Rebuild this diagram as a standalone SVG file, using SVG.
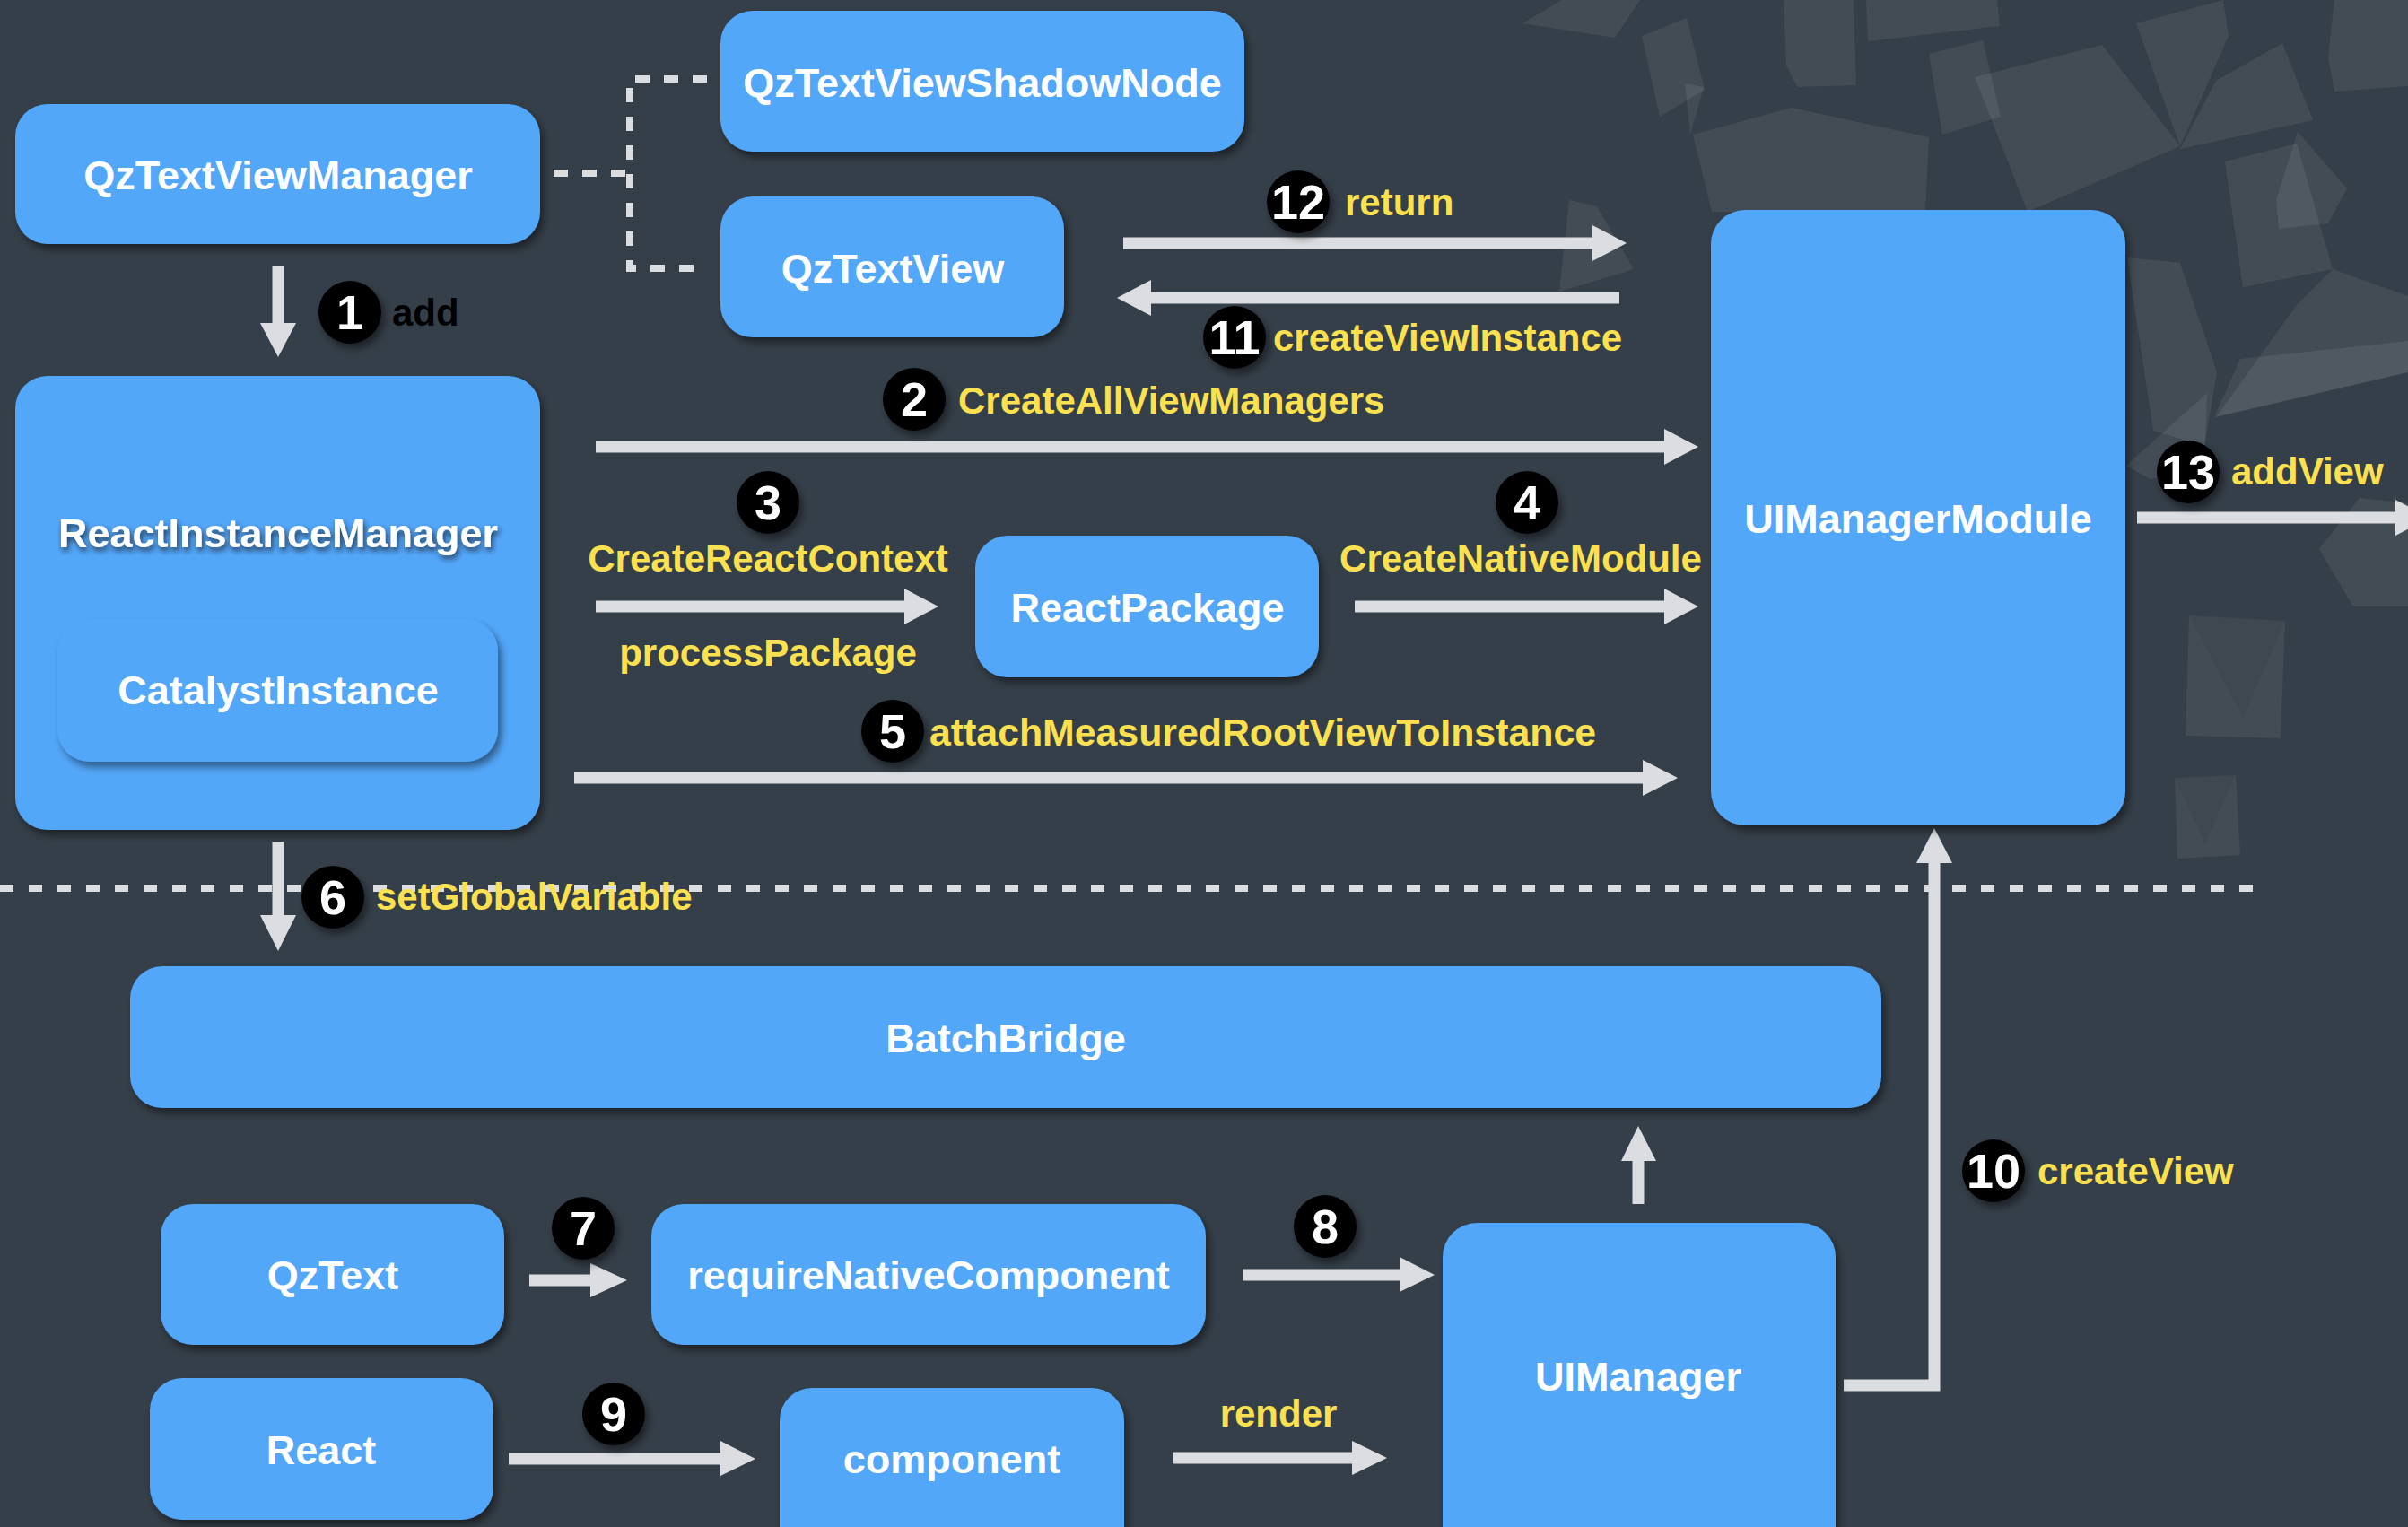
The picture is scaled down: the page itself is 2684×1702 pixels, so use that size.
<svg xmlns="http://www.w3.org/2000/svg" width="2684" height="1702" viewBox="0 0 2684 1702">
<defs>
<filter id="sh" x="-10%" y="-10%" width="130%" height="130%">
<feDropShadow dx="4" dy="6" stdDeviation="4" flood-color="#000" flood-opacity="0.45"/>
</filter>
<filter id="tsh" x="-10%" y="-30%" width="120%" height="170%">
<feDropShadow dx="2" dy="4" stdDeviation="3" flood-color="#1a2430" flood-opacity="0.8"/>
</filter>
<style>
.box{fill:#52a7f9;filter:url(#sh)}
.nt{font-family:"Liberation Sans",Arial,sans-serif;font-weight:bold;font-size:45px;fill:#ffffff;text-anchor:middle}
.lb{font-family:"Liberation Sans",Arial,sans-serif;font-weight:bold;font-size:42px;fill:#fbe04f}
.bd circle{fill:#000;filter:url(#sh)}
.bd text{font-family:"Liberation Sans",Arial,sans-serif;font-weight:bold;font-size:54px;fill:#fff;text-anchor:middle}
.ln{stroke:#dcdde0;stroke-width:13;fill:none}
.hd{fill:#dcdde0}
.dash{stroke:#dcdde0;stroke-width:8;fill:none;stroke-dasharray:16 16}
.bgl{fill:#ffffff;fill-opacity:0.07}
.bgd{fill:#000000;fill-opacity:0.05}
</style>
</defs>
<rect x="0" y="0" width="2684" height="1702" fill="#353f49"/>
<g id="background">
<polygon class="bgl" points="1887,150 1997,120 2150,153 2146,236 1908,236"/>
<polygon class="bgl" points="2201,86 2343,50 2430,163 2260,236"/>
<polygon class="bgl" points="2080,0 2226,0 2229,29 2082,46"/>
<polygon class="bgl" points="2381,26 2478,0 2484,40 2430,163"/>
<polygon class="bgl" points="2544,48 2578,134 2430,166 2470,90"/>
<polygon class="bgl" points="2561,147 2616,210 2595,249 2540,255 2537,223"/>
<polygon class="bgl" points="2602,0 2684,0 2684,96 2602,102 2595,64"/>
<polygon class="bgl" points="2585,612 2630,555 2684,561 2684,676 2623,676"/>
<polygon class="bgl" points="2440,686 2547,692 2542,823 2436,820"/>
<polygon class="bgd" points="2440,686 2500,800 2547,692"/>
<polygon class="bgl" points="2424,867 2492,864 2497,953 2427,957"/>
<polygon class="bgd" points="2424,867 2458,940 2492,864"/>
<polygon class="bgl" points="1749,223 1780,230 1821,300 1738,325"/>
<polygon class="bgl" points="1697,26 1741,0 1828,0 1800,42"/>
<polygon class="bgl" points="2371,287 2430,293 2471,415 2457,497 2400,480"/>
<polygon class="bgl" points="2470,465 2684,415 2684,330 2600,300 2560,340"/>
<polygon class="bgl" points="1988,0 2066,0 2069,95 2003,97 1991,73"/>
<polygon class="bgl" points="1878,93 1899,97 1884,150"/>
<polygon class="bgl" points="2370,519 2460,438 2457,526 2397,534"/>
<polygon class="bgl" points="2468,465 2497,400 2684,380 2684,415"/>
<polygon class="bgl" points="2150,60 2210,45 2230,130 2165,150"/>
<polygon class="bgl" points="1830,40 1880,20 1900,100 1850,130"/>
<polygon class="bgl" points="2480,180 2560,160 2600,300 2500,320"/>
</g>
<g id="separator">
<line x1="0" y1="990" x2="2511" y2="990" stroke="#dcdde0" stroke-width="8" stroke-dasharray="15 17"/>
</g>
<g id="connectors">
<path class="dash" d="M617 193 H702"/>
<path class="dash" d="M788 88 H702 V299 H788"/>
<line class="ln" x1="310" y1="296" x2="310" y2="362"/><polygon class="hd" points="290,360 330,360 310,398"/>
<line class="ln" x1="664" y1="498" x2="1857" y2="498"/><polygon class="hd" points="1855,478 1855,518 1893,498"/>
<line class="ln" x1="664" y1="676" x2="1010" y2="676"/><polygon class="hd" points="1008,656 1008,696 1046,676"/>
<line class="ln" x1="1510" y1="676" x2="1857" y2="676"/><polygon class="hd" points="1855,656 1855,696 1893,676"/>
<line class="ln" x1="640" y1="867" x2="1833" y2="867"/><polygon class="hd" points="1831,847 1831,887 1870,867"/>
<line class="ln" x1="310" y1="938" x2="310" y2="1022"/><polygon class="hd" points="290,1020 330,1020 310,1060"/>
<line class="ln" x1="590" y1="1427" x2="660" y2="1427"/><polygon class="hd" points="658,1408 658,1446 699,1427"/>
<line class="ln" x1="1385" y1="1421" x2="1562" y2="1421"/><polygon class="hd" points="1560,1401 1560,1440 1599,1421"/>
<line class="ln" x1="567" y1="1626" x2="805" y2="1626"/><polygon class="hd" points="803,1606 803,1645 842,1626"/>
<line class="ln" x1="1307" y1="1625" x2="1509" y2="1625"/><polygon class="hd" points="1507,1606 1507,1644 1546,1625"/>
<line class="ln" x1="1826" y1="1342" x2="1826" y2="1292"/><polygon class="hd" points="1807,1294 1846,1294 1826,1255"/>
<path class="ln" d="M2055 1544 H2156 V960"/><polygon class="hd" points="2136,962 2176,962 2156,923"/>
<line class="ln" x1="1805" y1="332" x2="1280" y2="332"/><polygon class="hd" points="1283,312 1283,352 1245,332"/>
<line class="ln" x1="1252" y1="271" x2="1777" y2="271"/><polygon class="hd" points="1775,251 1775,291 1813,271"/>
<line class="ln" x1="2382" y1="577" x2="2672" y2="577"/><polygon class="hd" points="2670,557 2670,597 2708,577"/>
</g>
<g id="QzTextViewManager"><rect class="box" x="17" y="116" width="585" height="156" rx="36"/><text class="nt" x="310" y="211">QzTextViewManager</text></g>
<g id="QzTextViewShadowNode"><rect class="box" x="803" y="12" width="584" height="157" rx="36"/><text class="nt" x="1095" y="108">QzTextViewShadowNode</text></g>
<g id="QzTextView"><rect class="box" x="803" y="219" width="383" height="157" rx="36"/><text class="nt" x="995" y="315">QzTextView</text></g>
<g id="ReactInstanceManager"><rect class="box" x="17" y="419" width="585" height="506" rx="36"/><text class="nt" x="310" y="610" filter="url(#tsh)">ReactInstanceManager</text>
<g id="CatalystInstance"><rect class="box" x="64" y="690" width="491" height="159" rx="36"/><text class="nt" x="310" y="785">CatalystInstance</text></g></g>
<g id="ReactPackage"><rect class="box" x="1087" y="597" width="383" height="158" rx="36"/><text class="nt" x="1279" y="693">ReactPackage</text></g>
<g id="UIManagerModule"><rect class="box" x="1907" y="234" width="462" height="686" rx="38"/><text class="nt" x="2138" y="594">UIManagerModule</text></g>
<g id="BatchBridge"><rect class="box" x="145" y="1077" width="1952" height="158" rx="36"/><text class="nt" x="1121" y="1173">BatchBridge</text></g>
<g id="QzText"><rect class="box" x="179" y="1342" width="383" height="157" rx="36"/><text class="nt" x="371" y="1437">QzText</text></g>
<g id="requireNativeComponent"><rect class="box" x="726" y="1342" width="618" height="157" rx="36"/><text class="nt" x="1035" y="1437">requireNativeComponent</text></g>
<g id="UIManager"><rect class="box" x="1608" y="1363" width="438" height="380" rx="38"/><text class="nt" x="1826" y="1550">UIManager</text></g>
<g id="React"><rect class="box" x="167" y="1536" width="383" height="158" rx="36"/><text class="nt" x="358" y="1632">React</text></g>
<g id="component"><rect class="box" x="869" y="1547" width="384" height="200" rx="36"/><text class="nt" x="1061" y="1642">component</text></g>
<g id="labels">
<g class="bd"><circle cx="390" cy="348" r="35"/><text x="390" y="367">1</text></g>
<text x="437" y="363" font-family="'Liberation Sans',Arial,sans-serif" font-weight="bold" font-size="42" fill="#000">add</text>
<g class="bd"><circle cx="1019" cy="445" r="35"/><text x="1019" y="464">2</text></g>
<text class="lb" x="1068" y="461">CreateAllViewManagers</text>
<g class="bd"><circle cx="856" cy="560" r="35"/><text x="856" y="579">3</text></g>
<text class="lb" x="856" y="637" text-anchor="middle">CreateReactContext</text>
<text class="lb" x="856" y="742" text-anchor="middle">processPackage</text>
<g class="bd"><circle cx="1702" cy="560" r="35"/><text x="1702" y="579">4</text></g>
<text class="lb" x="1695" y="637" text-anchor="middle">CreateNativeModule</text>
<g class="bd"><circle cx="995" cy="815" r="35"/><text x="995" y="834">5</text></g>
<text class="lb" x="1036" y="831" textLength="743" lengthAdjust="spacingAndGlyphs">attachMeasuredRootViewToInstance</text>
<g class="bd"><circle cx="371" cy="1000" r="35"/><text x="371" y="1019">6</text></g>
<text class="lb" x="419" y="1014">setGlobalVariable</text>
<g class="bd"><circle cx="650" cy="1369" r="35"/><text x="650" y="1388">7</text></g>
<g class="bd"><circle cx="1477" cy="1367" r="35"/><text x="1477" y="1386">8</text></g>
<g class="bd"><circle cx="684" cy="1576" r="35"/><text x="684" y="1595">9</text></g>
<text class="lb" x="1425" y="1590" text-anchor="middle">render</text>
<g class="bd"><circle cx="2222" cy="1305" r="35"/><text x="2222" y="1324">10</text></g>
<text class="lb" x="2271" y="1320">createView</text>
<g class="bd"><circle cx="1376" cy="376" r="35"/><text x="1376" y="395">11</text></g>
<text class="lb" x="1419" y="391">createViewInstance</text>
<g class="bd"><circle cx="1447" cy="225" r="35"/><text x="1447" y="244">12</text></g>
<text class="lb" x="1499" y="240">return</text>
<g class="bd"><circle cx="2439" cy="526" r="35"/><text x="2439" y="545">13</text></g>
<text class="lb" x="2487" y="540">addView</text>
</g>
</svg>
